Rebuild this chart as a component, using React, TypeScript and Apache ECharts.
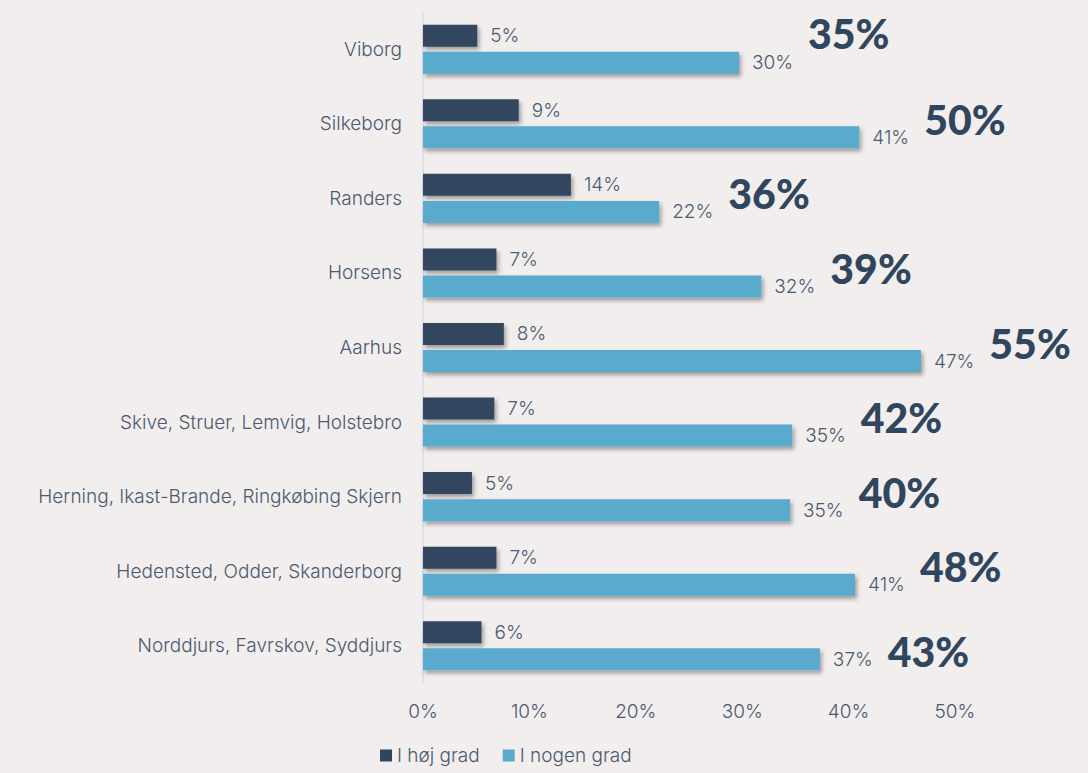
import React, { useEffect, useRef } from "react";
import * as echarts from "echarts";

const categories = [
  "Viborg",
  "Silkeborg",
  "Randers",
  "Horsens",
  "Aarhus",
  "Skive, Struer, Lemvig, Holstebro",
  "Herning, Ikast-Brande, Ringkøbing Skjern",
  "Hedensted, Odder, Skanderborg",
  "Norddjurs, Favrskov, Syddjurs",
];
const highDegree = [5.1, 9.0, 13.9, 6.9, 7.6, 6.7, 4.6, 6.9, 5.5];
const someDegree = [29.7, 41.0, 22.2, 31.8, 46.8, 34.7, 34.5, 40.6, 37.3];
const totals = [35, 50, 36, 39, 55, 42, 40, 48, 43];
const xTicks = [0, 10, 20, 30, 40, 50];
const seriesNames = ["I høj grad", "I nogen grad"];

const FONT = "Inter, 'Open Sans', sans-serif";
const BIGFONT = "Lato, 'Open Sans', sans-serif";
const TEXT = "#4b5a72";
const DARK = "#30465f";
const LIGHT = "#5aaacd";

export default function App() {
  const ref = useRef<HTMLDivElement>(null);
  useEffect(() => {
    document.body.style.margin = "0";
    const chart = echarts.init(ref.current!, null, { renderer: "svg" });
    const shadow = {
      shadowColor: "rgba(0,0,0,0.35)",
      shadowBlur: 4,
      shadowOffsetX: 2,
      shadowOffsetY: 3,
    };
    const small = { fontSize: 19, color: TEXT, fontWeight: 300, fontFamily: FONT };
    const big = {
      fontSize: 41,
      lineHeight: 40,
      fontWeight: 900,
      color: DARK,
      fontFamily: BIGFONT,
    };
    const bigStyle = (i: number) => (i === 0 ? "bHigh" : i === categories.length - 1 ? "bLow" : "b");
    chart.setOption({
      animation: false,
      backgroundColor: "#f1eeed",
      textStyle: { fontFamily: FONT },
      grid: { left: 423, right: 133, top: 12, bottom: 90 },
      legend: {
        bottom: 3,
        left: 375,
        icon: "rect",
        itemWidth: 12,
        itemHeight: 12,
        itemGap: 23,
        data: seriesNames,
        textStyle: small,
      },
      xAxis: {
        type: "value",
        min: xTicks[0],
        max: xTicks[xTicks.length - 1],
        interval: 10,
        axisLine: { show: false },
        axisTick: { show: false },
        splitLine: { show: false },
        axisLabel: { ...small, formatter: "{value}%", margin: 19 },
      },
      yAxis: {
        type: "category",
        inverse: true,
        data: categories,
        axisLine: { show: true, lineStyle: { color: "#d6dee8", width: 1.5 } },
        axisTick: { show: false },
        axisLabel: { ...small, margin: 21 },
      },
      series: [
        {
          name: seriesNames[0],
          type: "bar",
          data: highDegree,
          barWidth: 22,
          barGap: "23%",
          itemStyle: { color: DARK, ...shadow },
          label: {
            show: true,
            position: "right",
            distance: 13,
            ...small,
            formatter: (p: any) => Math.round(p.value) + "%",
          },
        },
        {
          name: seriesNames[1],
          type: "bar",
          data: someDegree,
          barWidth: 22,
          barGap: "23%",
          itemStyle: { color: LIGHT, ...shadow },
          label: {
            show: true,
            position: "right",
            distance: 13,
            formatter: (p: any) =>
              "{a|" +
              Math.round(p.value) +
              "%}{" +
              bigStyle(p.dataIndex) +
              "|" +
              totals[p.dataIndex] +
              "%}",
            rich: {
              a: { ...small, padding: [0, 15, 0, 0] },
              b: { ...big, padding: [0, 0, 36, 0] },
              bHigh: { ...big, padding: [0, 0, 58, 0] },
              bLow: { ...big, padding: [0, 0, 16, 0] },
            },
          },
        },
      ],
    });
    return () => chart.dispose();
  }, []);
  return <div ref={ref} style={{ width: 1088, height: 773 }} />;
}
